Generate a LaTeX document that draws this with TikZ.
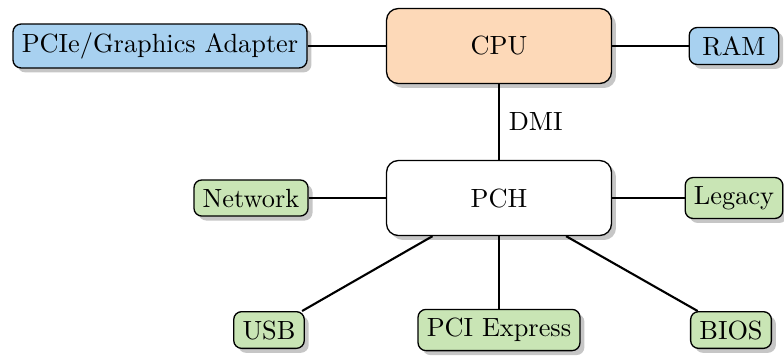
\documentclass[tikz,border=0pt]{standalone}
\usetikzlibrary{shadows}
\definecolor{cpufill}{HTML}{FDD9B8}
\definecolor{extfill}{HTML}{A8D1F0}
\definecolor{iofill}{HTML}{C9E5B5}
\begin{document}
\begin{tikzpicture}[x=0.38pt, y=-0.38pt,
  box/.style={draw, line width=0.5pt, rounded corners=3pt,
    drop shadow={opacity=0.45, shadow xshift=1.7pt, shadow yshift=-1.7pt}},
  hub/.style={box, rounded corners=4.5pt, minimum width=85.5pt, minimum height=28.5pt},
  ext/.style={box, fill=extfill},
  io/.style={box, fill=iofill},
  link/.style={line width=0.8pt}]
\useasboundingbox (0,0) rectangle (784,356);

\node[hub, fill=cpufill] (cpu) at (499,46) {CPU};
\node[hub, fill=white]   (pch) at (499,198) {PCH};

\node[ext] (gfx) at (160,46) {PCIe/Graphics Adapter};
\node[ext, minimum width=34pt] (ram) at (734,46) {RAM};

\node[io] (net)    at (251,198) {Network};
\node[io] (legacy) at (734,198) {Legacy};
\node[io] (usb)    at (269,330) {USB};
\node[io] (pcie)   at (499,330) {PCI Express};
\node[io] (bios)   at (731,330) {BIOS};

\draw[link] (gfx) -- (cpu);
\draw[link] (cpu) -- (ram);
\draw[link] (cpu) -- node[right] {DMI} (pch);
\draw[link] (net) -- (pch);
\draw[link] (pch) -- (legacy);
\draw[link] (pch) -- (usb);
\draw[link] (pch) -- (pcie);
\draw[link] (pch) -- (bios);
\end{tikzpicture}
\end{document}
